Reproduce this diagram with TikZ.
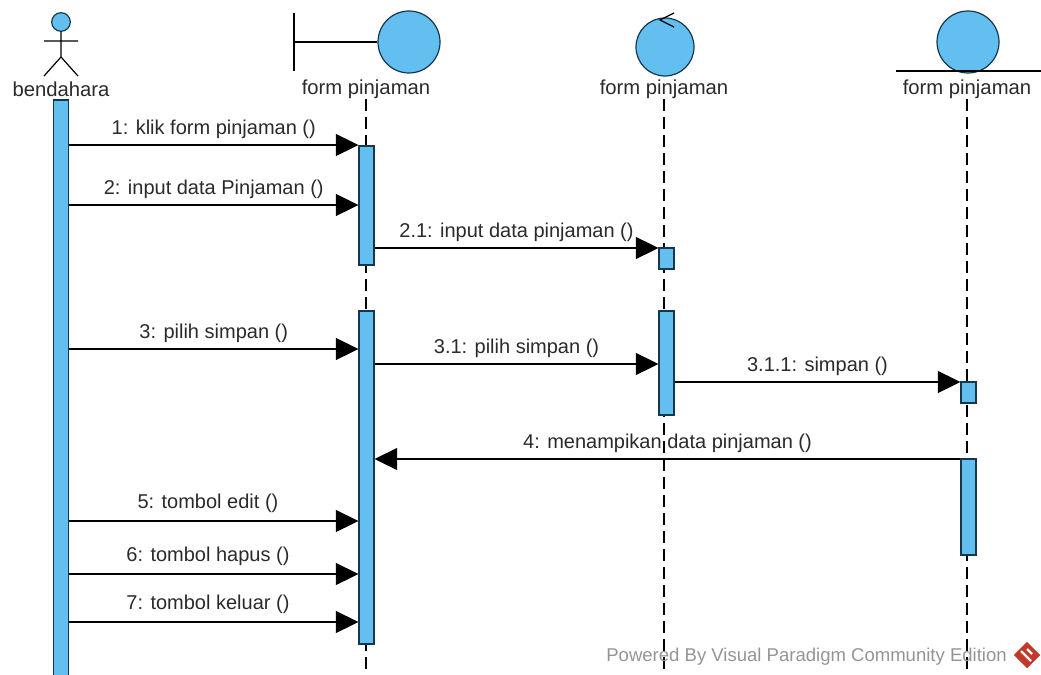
\documentclass[tikz,border=0pt]{standalone}
\usepackage{fontspec}
\setmainfont{Liberation Sans}
\usetikzlibrary{arrows.meta,positioning,shapes.geometric}
\definecolor{vpblue}{HTML}{62BFF0}
\definecolor{vpline}{HTML}{16384C}
\definecolor{vptext}{HTML}{2A2A2A}
\definecolor{vpred}{HTML}{C0392B}

\begin{document}
\begin{tikzpicture}[
  x=0.75pt, y=-0.75pt,
  icon/.style={circle, draw=vpline, fill=vpblue, line width=0.9pt, inner sep=0pt},
  stroke/.style={draw=black, line width=0.9pt},
  actbar/.style={
    rectangle, draw=vpline, fill=vpblue, line width=0.8pt,
    minimum width=11.25pt, inner sep=0pt
  },
  headname/.style={font=\fontsize{15.2}{17}\selectfont, text=vptext, inner sep=0pt},
  msg/.style={-{Triangle[length=17pt,width=16.5pt]}, draw=black, line width=0.9pt},
  msgtext/.style={font=\fontsize{15}{17}\selectfont, text=vptext, above=4.5pt, inner sep=0pt},
  life/.style={draw=black, line width=0.8pt, dash pattern=on 9pt off 4.5pt}
]
\useasboundingbox (0,0) rectangle (1041,674);

% Lifeline heads
\node[icon, minimum size=14pt] (head) at (61,22) {};
\coordinate (hip) at (61,57);
\coordinate (handl) at (44,41);
\coordinate (handr) at (78,41);
\coordinate (footl) at (44,76);
\coordinate (footr) at (78,76);
\draw[stroke] (head) -- (hip) (handl) -- (handr) (footl) -- (hip) -- (footr);

\coordinate (walltop) at (294,13);
\coordinate (wallbot) at (294,71);
\coordinate (wallmid) at (294,42);
\node[icon, minimum size=46.5pt] (boundary) at (409,42) {};
\draw[stroke] (walltop) -- (wallbot) (wallmid) -- (boundary);

\node[icon, minimum size=43.5pt] (control) at (665,47) {};
\coordinate (ctip) at (660,20);
\coordinate (cup) at (674,13);
\coordinate (cdown) at (674,27);
\draw[stroke] (cup) -- (ctip) -- (cdown);

\node[icon, minimum size=46.5pt] (entity) at (968,42) {};
\coordinate (groundl) at (896,71);
\coordinate (groundr) at (1041,71);
\draw[stroke] (groundl) -- (groundr);

% Names
\node[headname] (nactor) at (61,89.5) {bendahara};
\node[headname] (nform) at (366,89.5) {form pinjaman};
\node[headname] (nctrl) at (664,89.5) {form pinjaman};
\node[headname] (nent) at (967,89.5) {form pinjaman};

% Lifelines
\coordinate (endform) at (366,674);
\coordinate (endctrl) at (664,674);
\coordinate (endent) at (967,674);
\draw[life] (nform.south) -- (endform);
\draw[life] (nctrl.south) -- (endctrl);
\draw[life] (nent.south) -- (endent);

% Activation bars
\node[actbar, minimum height=432pt] (baractor) at (61,388) {};
\node[actbar, minimum height=89.25pt] (barforma) at (366.5,205.5) {};
\node[actbar, minimum height=249.75pt] (barformb) at (366.5,477.5) {};
\node[actbar, minimum height=15.75pt] (barctrla) at (666.5,258.5) {};
\node[actbar, minimum height=78pt] (barctrlb) at (666.5,363) {};
\node[actbar, minimum height=15.75pt] (barenta) at (968.5,392.5) {};
\node[actbar, minimum height=72pt] (barentb) at (968.5,507) {};

% Message rows
\coordinate (m1) at (0,145);
\coordinate (m2) at (0,205);
\coordinate (m21) at (0,248);
\coordinate (m3) at (0,349);
\coordinate (m31) at (0,364);
\coordinate (m311) at (0,382);
\coordinate (m4) at (0,459);
\coordinate (m5) at (0,521);
\coordinate (m6) at (0,574);
\coordinate (m7) at (0,622);

% Messages
\draw[msg] (baractor.east |- m1) -- (barforma.west |- m1)
  node[midway, msgtext] {1: klik form pinjaman ()};
\draw[msg] (baractor.east |- m2) -- (barforma.west |- m2)
  node[midway, msgtext] {2: input data Pinjaman ()};
\draw[msg] (barforma.east |- m21) -- (barctrla.west |- m21)
  node[midway, msgtext] {2.1: input data pinjaman ()};
\draw[msg] (baractor.east |- m3) -- (barformb.west |- m3)
  node[midway, msgtext] {3: pilih simpan ()};
\draw[msg] (barformb.east |- m31) -- (barctrlb.west |- m31)
  node[midway, msgtext] {3.1: pilih simpan ()};
\draw[msg] (barctrlb.east |- m311) -- (barenta.west |- m311)
  node[midway, msgtext] {3.1.1: simpan ()};
\draw[msg] (barentb.west |- m4) -- (barformb.east |- m4)
  node[midway, msgtext] {4: menampikan data pinjaman ()};
\draw[msg] (baractor.east |- m5) -- (barformb.west |- m5)
  node[pos=0.48, msgtext, above=6pt] {5: tombol edit ()};
\draw[msg] (baractor.east |- m6) -- (barformb.west |- m6)
  node[pos=0.48, msgtext, above=6pt] {6: tombol hapus ()};
\draw[msg] (baractor.east |- m7) -- (barformb.west |- m7)
  node[pos=0.48, msgtext, above=6pt] {7: tombol keluar ()};

% Watermark
\node[font=\fontsize{13.9}{16}\selectfont, text=black!42, inner sep=0pt, anchor=east] (mark) at (1007,657)
  {Powered By Visual Paradigm Community Edition};
\node[diamond, fill=vpred, minimum size=20pt, inner sep=0pt] (logo) at (1027,655) {};
\draw[white, line width=1.6pt] (1021,651) -- (1031,661) (1027,649) -- (1032,654);
\end{tikzpicture}
\end{document}
